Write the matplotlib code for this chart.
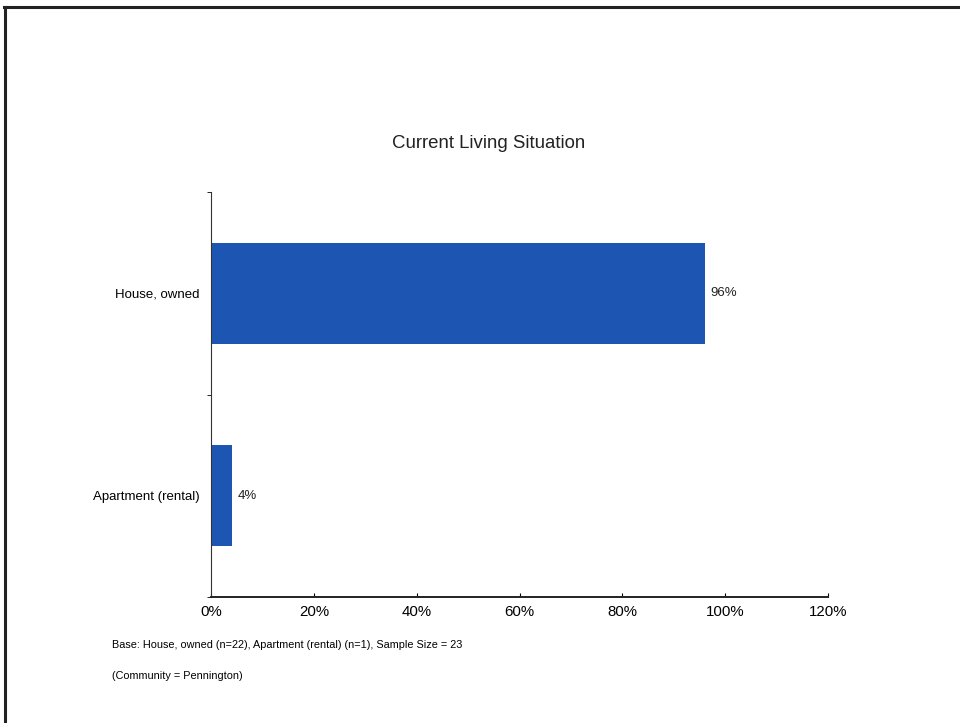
import matplotlib.pyplot as plt
from matplotlib.lines import Line2D

plt.rcParams['font.family'] = ['Liberation Sans', 'DejaVu Sans']

categories = ['House, owned', 'Apartment (rental)']
values = [96, 4]
value_labels = ['96%', '4%']
x_ticks = [0, 20, 40, 60, 80, 100, 120]

fig = plt.figure(figsize=(9.6, 7.23), dpi=100)
ax = fig.add_axes([0.2198, 0.1743, 0.6427, 0.560])

pos = [1, 0]
ax.barh(pos, values, height=0.5, color='#1d56b2')
for p, v, lab in zip(pos, values, value_labels):
    ax.text(v + 1.2, p, lab, va='center', ha='left', fontsize=9.5, color='#222222')

ax.set_xlim(0, 120)
ax.set_ylim(-0.5, 1.5)
ax.set_xticks(x_ticks)
ax.set_xticklabels([f'{t}%' for t in x_ticks], fontsize=10.8)
ax.set_yticks(pos)
ax.set_yticklabels(categories, fontsize=9.5)
ax.set_yticks([-0.5, 0.5, 1.5], minor=True)
ax.tick_params(axis='y', which='major', length=0, pad=8)
ax.tick_params(axis='y', which='minor', length=3, direction='out')
ax.tick_params(axis='x', length=3, direction='in', pad=6)
for s in ['top', 'right']:
    ax.spines[s].set_visible(False)
ax.spines['left'].set_color('#333333')
ax.spines['bottom'].set_color('#222222')
ax.spines['bottom'].set_linewidth(1.4)

fig.text(0.509, 0.802, 'Current Living Situation', ha='center', va='center', fontsize=13.4,
         color='#222222')
fig.text(0.117, 0.108, 'Base: House, owned (n=22), Apartment (rental) (n=1), Sample Size = 23',
         ha='left', va='center', fontsize=7.8)
fig.text(0.117, 0.065, '(Community = Pennington)', ha='left', va='center', fontsize=7.8)

# page frame from the scan
fig.add_artist(Line2D([0.004, 1.0], [0.990, 0.990], transform=fig.transFigure, color='#222222', lw=2.2))
fig.add_artist(Line2D([0.005, 0.005], [0.0, 0.990], transform=fig.transFigure, color='#222222', lw=2.2))

fig.savefig('out.png', dpi=100)
